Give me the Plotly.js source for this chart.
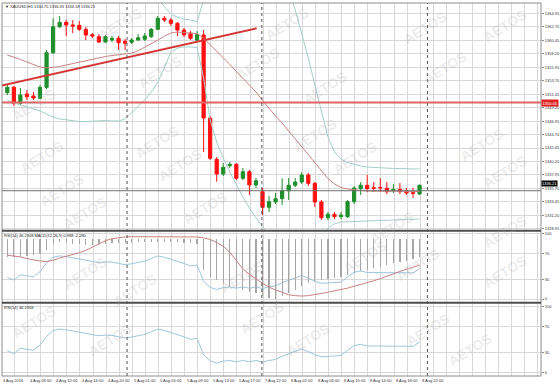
<!DOCTYPE html>
<html><head><meta charset="utf-8">
<script src="https://cdn.plot.ly/plotly-3.0.1.min.js"></script>
<style>html,body{margin:0;padding:0;background:#fff}#chart{width:560px;height:385px}</style>
</head><body><div id="chart"></div>
<script>
// ---------------- data ----------------
const titleText = 'XAUUSD,H1 1334.75 1336.33 1334.58 1336.21';
const sub1Text = 'RSI(14) 46.2308 MACD(12,26,9) 0.988 -2.280';
const sub2Text = 'RSI(14) 46.2308';

const timeLabels = ['4 Aug 2016','4 Aug 08:00','4 Aug 12:00','4 Aug 16:00','4 Aug 20:00','5 Aug 01:00','5 Aug 05:00','5 Aug 09:00','5 Aug 13:00','5 Aug 17:00','7 Aug 22:00','8 Aug 02:00','8 Aug 06:00','8 Aug 10:00','8 Aug 14:00','8 Aug 18:00','8 Aug 22:00'];

const opens = [1351.70,1352.60,1349.93,1351.48,1351.15,1350.76,1352.60,1358.39,1362.74,1363.48,
1363.03,1362.98,1362.31,1361.40,1361.07,1360.18,1360.52,1360.80,1360.30,1360.13,
1360.52,1360.63,1361.07,1362.31,1364.15,1363.86,1363.31,1362.19,1361.64,1360.52,
1361.35,1347.47,1340.56,1338.10,1339.49,1339.72,1337.38,1338.48,1336.26,1335.14,
1332.53,1333.42,1333.97,1335.30,1336.21,1336.76,1337.93,1336.54,1333.42,1330.79,
1331.36,1330.96,1330.96,1333.47,1335.64,1336.21,1335.81,1335.84,1335.71,1335.30,
1335.54,1335.26,1334.97,1334.75];
const highs = [1352.99,1352.82,1352.49,1352.15,1351.82,1352.99,1358.85,1364.15,1364.53,1363.86,
1363.86,1363.70,1362.69,1361.69,1361.52,1361.35,1361.19,1361.19,1360.69,1360.85,
1361.52,1361.69,1362.53,1364.53,1364.53,1364.20,1363.53,1362.53,1362.02,1362.02,
1362.19,1347.80,1340.94,1339.94,1340.11,1339.94,1339.10,1338.77,1337.43,1335.76,
1334.42,1334.92,1337.38,1337.43,1337.43,1338.43,1338.27,1336.76,1333.75,1331.74,
1331.74,1331.74,1333.75,1336.09,1336.76,1337.93,1336.76,1337.43,1336.76,1336.43,
1336.59,1335.76,1335.76,1336.33];
const lows = [1351.32,1349.48,1349.64,1350.48,1350.48,1350.65,1352.32,1358.18,1362.53,1361.19,
1361.69,1362.02,1360.52,1360.85,1360.02,1360.02,1360.18,1358.85,1358.85,1359.85,
1360.35,1360.35,1360.85,1362.19,1363.53,1362.86,1361.19,1361.02,1360.52,1360.35,
1341.78,1340.44,1336.81,1337.77,1339.10,1337.10,1337.10,1334.59,1335.76,1331.24,
1331.74,1333.08,1332.91,1333.75,1335.92,1336.43,1336.09,1332.58,1330.41,1330.41,
1330.57,1330.57,1330.74,1333.08,1334.59,1335.09,1335.09,1335.09,1334.75,1334.92,
1334.75,1334.59,1334.08,1334.58];
const closes = [1352.60,1349.93,1351.32,1351.03,1350.81,1352.60,1358.39,1362.74,1363.48,1363.03,
1362.86,1362.31,1361.35,1361.19,1360.18,1361.07,1360.80,1360.07,1359.97,1360.52,
1360.90,1361.19,1362.31,1364.15,1363.86,1363.31,1362.19,1361.40,1360.80,1361.40,
1347.47,1340.73,1338.10,1339.22,1339.72,1337.38,1338.48,1336.26,1336.98,1332.53,
1333.47,1333.97,1335.30,1336.21,1336.76,1337.93,1336.54,1333.42,1330.79,1331.36,
1330.96,1331.24,1333.47,1335.76,1336.21,1335.64,1335.71,1335.79,1335.14,1335.54,
1335.14,1334.92,1334.87,1336.21];

const bbUpper = [1370.56,1370.22,1369.89,1369.55,1369.22,1368.88,1369.22,1369.89,1370.22,1370.22,
1370.05,1369.89,1369.72,1369.55,1369.22,1368.88,1368.72,1368.55,1368.38,1368.21,
1368.21,1368.21,1368.05,1367.38,1366.21,1364.87,1364.37,1364.03,1363.86,1363.61,
1367.21,1369.72,1371.89,1373.57,1374.74,1375.58,1376.08,1376.41,1376.41,1376.08,
1375.58,1373.90,1371.39,1368.88,1365.54,1361.69,1357.51,1352.99,1348.64,1344.29,
1341.78,1340.61,1340.02,1339.69,1339.44,1339.27,1339.19,1339.10,1339.10,1339.02,
1339.02,1338.94,1338.94,1338.94];
const bbMiddle = [1358.01,1357.67,1357.26,1356.84,1356.42,1356.00,1355.83,1355.92,1356.08,1356.33,
1356.59,1356.84,1357.09,1357.34,1357.59,1357.76,1357.92,1358.09,1358.18,1358.31,
1358.73,1359.30,1359.83,1360.50,1361.15,1361.69,1361.86,1361.81,1361.67,1361.59,
1360.82,1359.75,1358.58,1357.47,1356.45,1355.26,1354.16,1352.97,1351.82,1350.41,
1349.04,1347.80,1346.63,1345.29,1343.96,1342.70,1341.45,1340.11,1338.69,1337.35,
1336.43,1335.84,1335.59,1335.42,1335.34,1335.26,1335.26,1335.26,1335.22,1335.19,
1335.17,1335.16,1335.14,1335.17];
const bbLower = [1350.48,1349.98,1349.64,1349.31,1348.97,1348.64,1348.14,1347.64,1347.30,1347.13,
1346.97,1346.88,1346.88,1346.97,1347.05,1347.05,1346.97,1346.97,1347.30,1348.31,
1349.31,1350.48,1351.82,1353.49,1355.83,1358.51,1359.18,1359.35,1359.35,1359.26,
1354.16,1347.13,1343.45,1340.77,1338.43,1336.26,1334.25,1332.41,1330.74,1329.23,
1327.89,1326.72,1325.72,1325.05,1324.72,1324.72,1325.05,1325.72,1327.06,1329.07,
1329.74,1330.07,1330.12,1330.19,1330.24,1330.27,1330.32,1330.35,1330.40,1330.44,
1330.49,1330.52,1330.56,1330.57];

const rsi = [33,29,37,35,34,42,55,64,66,65,
63.5,62,59.5,57.5,56,57,56.5,54.5,52.5,54,
56.5,58,62,66,64,61,57.5,54.5,50.5,52,
27,18,14.5,17.5,18.5,16.5,18.5,16.5,18.5,16,
18.5,20,25,29,32,36,32,27,24,25,
25,26,34,41,43,40.5,40.5,40.5,39.5,40,
39.5,40,40,46.23];
const macdHist = [-2.06,-2.06,-2.0,-1.94,-1.82,-1.71,-1.24,-0.53,
-0.3,-0.4,-0.5,-0.55,-0.6,-0.6,-0.55,-0.5,-0.45,-0.45,-0.4,-0.4,-0.35,-0.35,-0.3,-0.25,-0.25,-0.3,-0.35,-0.4,-0.45,-0.5,
-3.59,-4.38,-4.76,-5.12,-5.55,-5.71,-5.94,-6.14,-6.29,-6.65,-6.88,-7.0,
-6.65,-6.29,-5.94,-5.47,-5.12,-4.88,-4.76,-4.65,-4.53,-4.38,-4.18,-3.94,-3.76,-3.59,-3.35,-3.18,-3.0,-2.82,-2.65,-2.47,-2.29,-2.06];
const macdSignal = [-1.85,-1.95,-2.05,-2.25,-2.4,-2.53,-2.6,-2.45,-2.18,-2.0,
-1.82,-1.55,-1.28,-0.9,-0.47,-0.15,0.1,0.22,0.3,0.33,
0.33,0.33,0.33,0.33,0.33,0.33,0.33,0.33,0.33,0.3,
0.2,0.0,-0.35,-0.8,-1.5,-2.5,-3.45,-4.1,-4.65,-5.15,
-5.6,-5.95,-6.2,-6.5,-6.6,-6.65,-6.6,-6.5,-6.35,-6.2,
-6.05,-5.9,-5.72,-5.5,-5.3,-5.1,-4.85,-4.6,-4.37,-4.05,
-3.75,-3.5,-3.25,-3.0];

const priceTicks = [1328.95,1331.20,1333.45,1335.70,1337.95,1340.20,1342.45,1344.70,1346.95,1349.20,1351.45,1353.70,1355.95,1358.20,1360.45,1362.70,1364.95];
const priceTickText = ['1328.95','1331.20','1333.45','1335.70','1337.95','1340.20','1342.45','1344.70','1346.95','1349.20','1351.45','1353.70','1355.95','1358.20','1360.45','1362.70','1364.95'];
const rsiTicks = [0,30,70,100];
const rsiTickText = ['0','30','70','100'];

const trendX = [-1.11, 38.1];
const trendY = [1352.82, 1362.48];
const resistLevel = 1350.06;
const resistText = '1350.06';
const baseLevel = 1335.30;
const lastClose = 1336.21;
const lastCloseText = '1336.21';
const daySeparators = [18.3, 38.9, 64.2];

// ---------------- drawing ----------------
const N = closes.length;
const idx = Array.from({length:N}, (_, i) => i);
const COL = {up:'#1f8f2b', down:'#ff1010', band:'#a5cfcb', mid:'#c98282', rsi:'#9ec5d9',
             grid:'#d8d8d8', frame:'#8c8c8c', sep:'#4d4d4d', hist:'#a6a6a6', text:'#303030'};
const FONT = 'Liberation Sans, Arial, sans-serif';

// plot area in pixels
const PL = 2, PT = 3, PR = 541.5, PB = 376;
const PW = PR - PL, PH = PB - PT;
const fx = px => (px - PL) / PW;
const fy = py => (PB - py) / PH;
const X0 = -0.81, X1 = 81.56;
const barToPaper = b => (b - X0) / (X1 - X0);

const traces = [
  {type:'bar', x:idx, y:macdHist, xaxis:'x', yaxis:'y4', width:0.18,
   marker:{color:COL.hist, line:{width:0}}, hoverinfo:'skip'},
  {type:'scatter', mode:'lines', x:idx, y:macdSignal, xaxis:'x', yaxis:'y4',
   line:{color:COL.mid, width:1}, hoverinfo:'skip'},
  {type:'scatter', mode:'lines', x:idx, y:rsi, xaxis:'x', yaxis:'y2',
   line:{color:COL.rsi, width:1}, hoverinfo:'skip'},
  {type:'scatter', mode:'lines', x:idx, y:rsi, xaxis:'x', yaxis:'y3',
   line:{color:COL.rsi, width:1}, hoverinfo:'skip'},
  {type:'scatter', mode:'lines', x:idx, y:bbUpper, xaxis:'x', yaxis:'y',
   line:{color:COL.band, width:1}, hoverinfo:'skip'},
  {type:'scatter', mode:'lines', x:idx, y:bbLower, xaxis:'x', yaxis:'y',
   line:{color:COL.band, width:1}, hoverinfo:'skip'},
  {type:'scatter', mode:'lines', x:idx, y:bbMiddle, xaxis:'x', yaxis:'y',
   line:{color:COL.mid, width:1}, hoverinfo:'skip'},
  {type:'candlestick', x:idx, open:opens, high:highs, low:lows, close:closes,
   xaxis:'x', yaxis:'y', whiskerwidth:0,
   increasing:{line:{color:COL.up, width:1}, fillcolor:COL.up},
   decreasing:{line:{color:COL.down, width:1}, fillcolor:COL.down},
   hoverinfo:'skip'},
  {type:'scatter', mode:'lines', x:trendX, y:trendY, xaxis:'x', yaxis:'y',
   line:{color:'#d43636', width:2}, hoverinfo:'skip'}
];

const shapes = [
  {type:'line', xref:'paper', yref:'y', x0:0, x1:1, y0:resistLevel, y1:resistLevel,
   line:{color:'#e06262', width:2}, layer:'above'},
  {type:'line', xref:'paper', yref:'y', x0:0, x1:1, y0:baseLevel, y1:baseLevel,
   line:{color:'#6e6e6e', width:1}, layer:'above'},
  {type:'rect', xref:'paper', yref:'paper', x0:0, x1:1, y0:0, y1:1,
   line:{color:COL.frame, width:1}, layer:'above'},
  {type:'line', xref:'paper', yref:'paper', x0:0, x1:1, y0:fy(230.75), y1:fy(230.75),
   line:{color:COL.sep, width:2}, layer:'above'},
  {type:'line', xref:'paper', yref:'paper', x0:0, x1:1, y0:fy(302.75), y1:fy(302.75),
   line:{color:COL.sep, width:2}, layer:'above'}
];
daySeparators.forEach(b => shapes.push({type:'line', xref:'x', yref:'paper', x0:b, x1:b, y0:0, y1:1,
   line:{color:'#555', width:1, dash:'dot'}, layer:'above'}));

const annotations = [];
const small = (c) => ({family:FONT, size:4, color:c || COL.text});
annotations.push({xref:'paper', yref:'paper', x:fx(3), y:fy(6.5), xanchor:'left', yanchor:'middle',
  text:'▼', showarrow:false, font:{family:FONT, size:4, color:'#222'}});
annotations.push({xref:'paper', yref:'paper', x:fx(8), y:fy(6.5), xanchor:'left', yanchor:'middle',
  text:titleText, showarrow:false, font:small('#222')});
annotations.push({xref:'paper', yref:'paper', x:fx(2.5), y:fy(235.5), xanchor:'left', yanchor:'middle',
  text:sub1Text, showarrow:false, font:small('#222')});
annotations.push({xref:'paper', yref:'paper', x:fx(2.5), y:fy(307.5), xanchor:'left', yanchor:'middle',
  text:sub2Text, showarrow:false, font:small('#222')});
annotations.push({xref:'paper', yref:'y', x:1, y:resistLevel, xanchor:'left', yanchor:'middle',
  text:resistText, showarrow:false, bgcolor:'#e02222', borderpad:0.5, font:small('#fff')});
annotations.push({xref:'paper', yref:'y', x:1, y:lastClose, xanchor:'left', yanchor:'middle', yshift:1.5,
  text:lastCloseText, showarrow:false, bgcolor:'#000', borderpad:0, font:small('#fff')});
timeLabels.forEach((t, k) => annotations.push({xref:'paper', yref:'paper', x:barToPaper(4*k - 0.9),
  y:fy(380.5), xanchor:'left', yanchor:'middle', text:t, showarrow:false, font:small('#333')}));

// watermark (decoration)
const wm = [[120,24],[287,24],[425,28],[505,26],[34,105],[160,72],[258,64],[325,88],[445,68],
  [42,157],[157,142],[315,135],[482,145],[62,190],[180,165],[355,158],[505,172],
  [85,213],[205,208],[392,228],[505,232],[85,273],[242,277],[365,257],[505,272],
  [135,290],[418,265],[34,322],[110,340],[262,318],[308,340],[428,330],[470,350]];
wm.forEach(p => annotations.push({xref:'paper', yref:'paper', x:fx(p[0]), y:fy(p[1]),
  xanchor:'center', yanchor:'middle', text:'<b>AETOS</b>', textangle:-32, showarrow:false,
  font:{family:FONT, size:14, color:'rgba(170,170,170,0.22)'}}));

const yCommon = {side:'right', anchor:'x', showline:false, zeroline:false, ticks:'outside',
  ticklen:2, tickcolor:COL.frame, tickfont:small('#333'), gridcolor:COL.grid, gridwidth:1, fixedrange:true};

const layout = {
  width:560, height:385, margin:{l:PL, r:560-PR, t:PT, b:385-PB},
  paper_bgcolor:'#fff', plot_bgcolor:'#fff', showlegend:false, dragmode:false,
  xaxis:{domain:[0,1], range:[X0, X1], anchor:'y3', showticklabels:false, ticks:'',
    tick0:1.1, dtick:2, showgrid:true, gridcolor:COL.grid, zeroline:false, showline:false,
    rangeslider:{visible:false}, fixedrange:true},
  yaxis:Object.assign({}, yCommon, {domain:[fy(230), 1], range:[1328.73, 1366.71],
    tickmode:'array', tickvals:priceTicks, ticktext:priceTickText}),
  yaxis2:Object.assign({}, yCommon, {domain:[fy(302), fy(231.5)], range:[-4.6, 103.4],
    tickmode:'array', tickvals:rsiTicks, ticktext:rsiTickText}),
  yaxis3:Object.assign({}, yCommon, {domain:[0, fy(303.5)], range:[-5, 104.8],
    tickmode:'array', tickvals:rsiTicks, ticktext:rsiTickText}),
  yaxis4:{overlaying:'y2', anchor:'x', range:[-7.35, 0.94], visible:false, fixedrange:true},
  shapes:shapes, annotations:annotations, bargap:0
};

Plotly.newPlot('chart', traces, layout, {staticPlot:true, displayModeBar:false});
</script>
</body></html>
